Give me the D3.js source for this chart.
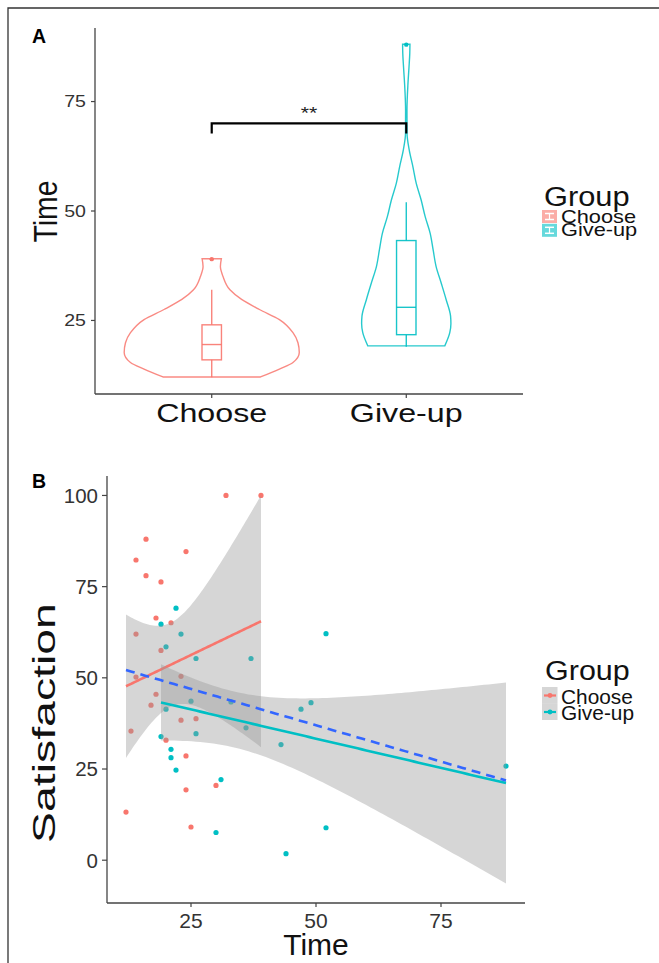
<!DOCTYPE html>
<html><head><meta charset="utf-8">
<script src="https://cdn.jsdelivr.net/npm/d3@7"></script>
<style>
body{margin:0;background:#fff}
svg{display:block;font-family:"Liberation Sans",Arial,Helvetica,sans-serif}
</style>
</head><body>
<svg id="c" width="659" height="963"></svg>
<script>
// ---------------- DATA ----------------
const groups = ["Choose", "Give-up"];
const groupColors = ["#F8766D", "#00BFC4"];

// Individual participants (Time, Satisfaction)
const chooseTime = [32, 39, 16, 24, 14, 16, 19, 18, 21, 14, 19, 14, 23, 18, 17, 23, 26, 13, 20, 24, 30, 24, 12, 25];
const chooseSat  = [100, 100, 88, 84.6, 82.3, 78, 76.3, 66.4, 65.1, 62, 57.5, 50.2, 50.4, 45.5, 42.5, 38.4, 38.8, 35.4, 32.9, 28.6, 20.5, 19.3, 13.2, 9.1];
const giveupTime = [22, 19, 23, 20, 26, 37, 20, 25, 33, 47, 49, 26, 36, 19, 43, 21, 21, 22, 31, 30, 44, 52, 52, 88];
const giveupSat  = [69.1, 64.7, 62, 58.5, 55.3, 55.3, 41.4, 43.6, 43.4, 41.4, 43.2, 34.7, 36.3, 33.9, 31.7, 30.4, 28.1, 24.7, 22.1, 7.6, 1.8, 62.1, 8.9, 25.8];

// Violin density outlines (Time value, relative half-width; 1 = widest violin)
const chooseViolinTime  = [39.1, 37.3, 35.1, 32.0, 29.8, 27.5, 25.2, 22.2, 19.9, 17.7, 15.4, 13.9, 12.1];
const chooseViolinWidth = [0.110, 0.099, 0.128, 0.208, 0.341, 0.545, 0.773, 0.928, 0.985, 1.0, 0.928, 0.773, 0.557];
const giveupViolinTime  = [88.1, 86.0, 82.8, 79.0, 73.0, 67.7, 63.9, 60.1, 56.3, 52.5, 48.7, 44.9, 41.1, 37.3, 33.6, 29.8, 26.0, 24.3, 22.2, 19.2];
const giveupViolinWidth = [0.042, 0.040, 0.031, 0.019, 0.008, 0.009, 0.034, 0.076, 0.114, 0.170, 0.216, 0.273, 0.307, 0.341, 0.398, 0.455, 0.506, 0.51, 0.497, 0.44];

const timeTicks = [25, 50, 75];
const satTicks = [0, 25, 50, 75, 100];
const sigLevel = 70;       // Time level of the significance bracket
const sigLabel = "**";
const legendTitle = "Group";

// ---------------- HELPERS ----------------
const svg = d3.select("#c");

function text(g, x, y, str, o) {
  o = o || {};
  const t = g.append("text")
    .attr("transform", `translate(${x},${y}) scale(${o.sx || 1},${o.sy || 1}) rotate(${o.rot || 0})`)
    .attr("font-size", o.size || 16)
    .attr("font-weight", o.weight || "normal")
    .attr("text-anchor", o.anchor || "start")
    .attr("fill", o.fill || "#000")
    .text(str);
  if (o.dy) t.attr("dy", o.dy);
  return t;
}

function expand(ext) { const d = (ext[1] - ext[0]) * 0.05; return [ext[0] - d, ext[1] + d]; }

// outer frame
svg.append("path").attr("d", "M8,963 L8,8 L659,8").attr("fill", "none").attr("stroke", "#333").attr("stroke-width", 1.3);

// ---------------- PANEL A ----------------
const gA = svg.append("g");
const allTime = chooseTime.concat(giveupTime);
const yA = d3.scaleLinear().domain(expand(d3.extent(allTime))).range([394, 28]);
// discrete x scale with ggplot's 0.6 expansion on each side
const xA = d3.scaleLinear().domain([0.4, groups.length + 0.6]).range([95, 523]);
const xCat = g => xA(groups.indexOf(g) + 1);
const unitW = xA(2) - xA(1);
const halfMax = 0.45 * unitW;

const violins = [
  {g: "Choose", t: chooseViolinTime, w: chooseViolinWidth, data: chooseTime, c: groupColors[0]},
  {g: "Give-up", t: giveupViolinTime, w: giveupViolinWidth, data: giveupTime, c: groupColors[1]}
];

violins.forEach(v => {
  const cx = xCat(v.g);
  const pts = v.t.map((t, i) => ({t, w: v.w[i]}));
  const area = d3.area().y(d => yA(d.t)).x0(d => cx - d.w * halfMax).x1(d => cx + d.w * halfMax).curve(d3.curveMonotoneY);
  gA.append("path").attr("d", area(pts)).attr("fill", "none").attr("stroke", v.c).attr("stroke-width", 1.4).attr("stroke-opacity", 0.85);

  const s = v.data.slice().sort(d3.ascending);
  const q1 = d3.quantile(s, 0.25), med = d3.quantile(s, 0.5), q3 = d3.quantile(s, 0.75);
  const iqr = q3 - q1;
  const inside = s.filter(d => d >= q1 - 1.5 * iqr && d <= q3 + 1.5 * iqr);
  const lo = d3.min(inside), hi = d3.max(inside);
  const outl = s.filter(d => d < q1 - 1.5 * iqr || d > q3 + 1.5 * iqr);
  const bw = 0.1 * unitW;
  const st = {stroke: v.c, "stroke-width": 1.4, "stroke-opacity": 0.9};
  const line = (x1, y1, x2, y2) => { const l = gA.append("line").attr("x1", x1).attr("y1", y1).attr("x2", x2).attr("y2", y2); Object.entries(st).forEach(([k, val]) => l.attr(k, val)); };
  line(cx, yA(q3), cx, yA(hi));
  line(cx, yA(q1), cx, yA(lo));
  const r = gA.append("rect").attr("x", cx - bw / 2).attr("y", yA(q3)).attr("width", bw).attr("height", yA(q1) - yA(q3)).attr("fill", "none");
  Object.entries(st).forEach(([k, val]) => r.attr(k, val));
  line(cx - bw / 2, yA(med), cx + bw / 2, yA(med));
  outl.forEach(o => gA.append("circle").attr("cx", cx).attr("cy", yA(o)).attr("r", 2.2).attr("fill", v.c));
});

// significance bracket
const bx1 = xCat(groups[0]), bx2 = xCat(groups[1]);
gA.append("path")
  .attr("d", `M${bx1},${yA(sigLevel - 2.3)} L${bx1},${yA(sigLevel)} L${bx2},${yA(sigLevel)} L${bx2},${yA(sigLevel - 2.3)}`)
  .attr("fill", "none").attr("stroke", "#000").attr("stroke-width", 2.2);
text(gA, (bx1 + bx2) / 2, yA(sigLevel) - 4, sigLabel, {size: 17, sx: 1.25, anchor: "middle", fill: "#222"});

// axes A
gA.append("line").attr("x1", 95).attr("x2", 95).attr("y1", 28).attr("y2", 394).attr("stroke", "#444").attr("stroke-width", 1.3);
gA.append("line").attr("x1", 95).attr("x2", 523).attr("y1", 394).attr("y2", 394).attr("stroke", "#444").attr("stroke-width", 1.3);
timeTicks.forEach(t => {
  gA.append("line").attr("x1", 91).attr("x2", 95).attr("y1", yA(t)).attr("y2", yA(t)).attr("stroke", "#444").attr("stroke-width", 1.2);
  text(gA, 86, yA(t), String(t), {size: 16.3, sx: 1.2, anchor: "end", dy: "0.36em", fill: "#333"});
});
groups.forEach(g => {
  gA.append("line").attr("x1", xCat(g)).attr("x2", xCat(g)).attr("y1", 394).attr("y2", 398).attr("stroke", "#444").attr("stroke-width", 1.2);
  text(gA, xCat(g), 422, g, {size: 25.6, sx: 1.26, anchor: "middle", fill: "#111"});
});
text(gA, 57, 211.5, "Time", {size: 28.4, sx: 1.18, rot: -90, anchor: "middle", fill: "#111"});
text(gA, 32, 43, "A", {size: 19.5, weight: "bold"});

// legend A
text(gA, 544, 206, legendTitle, {size: 28, sx: 1.1, fill: "#111"});
groups.forEach((g, i) => {
  const ky = 210 + i * 13.8;
  gA.append("rect").attr("x", 542).attr("y", ky).attr("width", 15).attr("height", 13).attr("fill", groupColors[i]).attr("fill-opacity", 0.6);
  [3.5, 9.5].forEach(dy => gA.append("line").attr("x1", 545).attr("x2", 554).attr("y1", ky + dy).attr("y2", ky + dy).attr("stroke", "#fff").attr("stroke-width", 1.5));
  gA.append("line").attr("x1", 549.5).attr("x2", 549.5).attr("y1", ky + 3.5).attr("y2", ky + 9.5).attr("stroke", "#fff").attr("stroke-width", 1.2);
  text(gA, 561, 223 + i * 13.3, g, {size: 18.6, sx: 1.17, fill: "#111"});
});

// ---------------- PANEL B ----------------
const gB = svg.append("g");
function fit(ts, ss) {
  const n = ts.length, mt = d3.mean(ts), ms = d3.mean(ss);
  let sxx = 0, sxy = 0, syy = 0;
  ts.forEach((t, i) => { sxx += (t - mt) ** 2; sxy += (t - mt) * (ss[i] - ms); syy += (ss[i] - ms) ** 2; });
  const b = sxy / sxx, a = ms - b * mt;
  const sig = Math.sqrt((syy - sxy * sxy / sxx) / (n - 2));
  const df = n - 2, z = 1.959964;
  const tq = z + (z ** 3 + z) / (4 * df) + (5 * z ** 5 + 16 * z ** 3 + 3 * z) / (96 * df * df);
  const [t0, t1] = d3.extent(ts);
  return d3.range(80).map(k => {
    const t = t0 + (t1 - t0) * k / 79;
    const yv = a + b * t;
    const se = sig * Math.sqrt(1 / n + (t - mt) ** 2 / sxx);
    return {t, y: yv, lo: yv - tq * se, hi: yv + tq * se};
  });
}
const fits = [fit(chooseTime, chooseSat), fit(giveupTime, giveupSat)];
const allSat = chooseSat.concat(giveupSat);
const fitAll = fit(allTime, allSat);

const yExt = [d3.min([d3.min(allSat), ...fits.map(f => d3.min(f, d => d.lo))]),
              d3.max([d3.max(allSat), ...fits.map(f => d3.max(f, d => d.hi))])];
const xB = d3.scaleLinear().domain(expand(d3.extent(allTime))).range([107, 525]);
const yB = d3.scaleLinear().domain(expand(yExt)).range([903, 476]);

const pointSets = [[chooseTime, chooseSat], [giveupTime, giveupSat]];
pointSets.forEach((ps, gi) => {
  ps[0].forEach((t, i) => gB.append("circle").attr("cx", xB(t)).attr("cy", yB(ps[1][i])).attr("r", 2.6).attr("fill", groupColors[gi]));
});

fits.forEach((f, gi) => {
  gB.append("path").attr("d", d3.area().x(d => xB(d.t)).y0(d => yB(d.lo)).y1(d => yB(d.hi))(f))
    .attr("fill", "#999999").attr("fill-opacity", 0.4);
  gB.append("path").attr("d", d3.line().x(d => xB(d.t)).y(d => yB(d.y))(f))
    .attr("fill", "none").attr("stroke", groupColors[gi]).attr("stroke-width", 2.6);
});
gB.append("path").attr("d", d3.line().x(d => xB(d.t)).y(d => yB(d.y))(fitAll))
  .attr("fill", "none").attr("stroke", "#3366FF").attr("stroke-width", 2.6).attr("stroke-dasharray", "9,6");

// axes B
gB.append("line").attr("x1", 107).attr("x2", 107).attr("y1", 476).attr("y2", 903).attr("stroke", "#444").attr("stroke-width", 1.3);
gB.append("line").attr("x1", 107).attr("x2", 525).attr("y1", 903).attr("y2", 903).attr("stroke", "#444").attr("stroke-width", 1.3);
satTicks.forEach(s => {
  gB.append("line").attr("x1", 102).attr("x2", 107).attr("y1", yB(s)).attr("y2", yB(s)).attr("stroke", "#444").attr("stroke-width", 1.2);
  text(gB, 98, yB(s), String(s), {size: 20.5, anchor: "end", dy: "0.36em", fill: "#333"});
});
timeTicks.forEach(t => {
  gB.append("line").attr("x1", xB(t)).attr("x2", xB(t)).attr("y1", 903).attr("y2", 907).attr("stroke", "#444").attr("stroke-width", 1.2);
  text(gB, xB(t), 928, String(t), {size: 21, anchor: "middle", fill: "#333"});
});
text(gB, 316, 955, "Time", {size: 30, anchor: "middle", fill: "#111"});
text(gB, 55, 723, "Satisfaction", {size: 32, sy: 1.45, rot: -90, anchor: "middle", fill: "#111"});
text(gB, 32, 488, "B", {size: 19.5, weight: "bold"});

// legend B
text(gB, 545, 680, legendTitle, {size: 27, sx: 1.13, fill: "#111"});
groups.forEach((g, i) => {
  const ky = 687 + i * 16.5;
  gB.append("rect").attr("x", 542).attr("y", ky).attr("width", 15.5).attr("height", 16.5).attr("fill", "#999999").attr("fill-opacity", 0.4);
  gB.append("line").attr("x1", 544).attr("x2", 556).attr("y1", ky + 8.5).attr("y2", ky + 8.5).attr("stroke", groupColors[i]).attr("stroke-width", 2.2);
  gB.append("circle").attr("cx", 550).attr("cy", ky + 8.5).attr("r", 2.4).attr("fill", groupColors[i]);
  text(gB, 561, 704 + i * 15.5, g, {size: 19.5, sx: 1.07, fill: "#111"});
});
</script>
</body></html>
